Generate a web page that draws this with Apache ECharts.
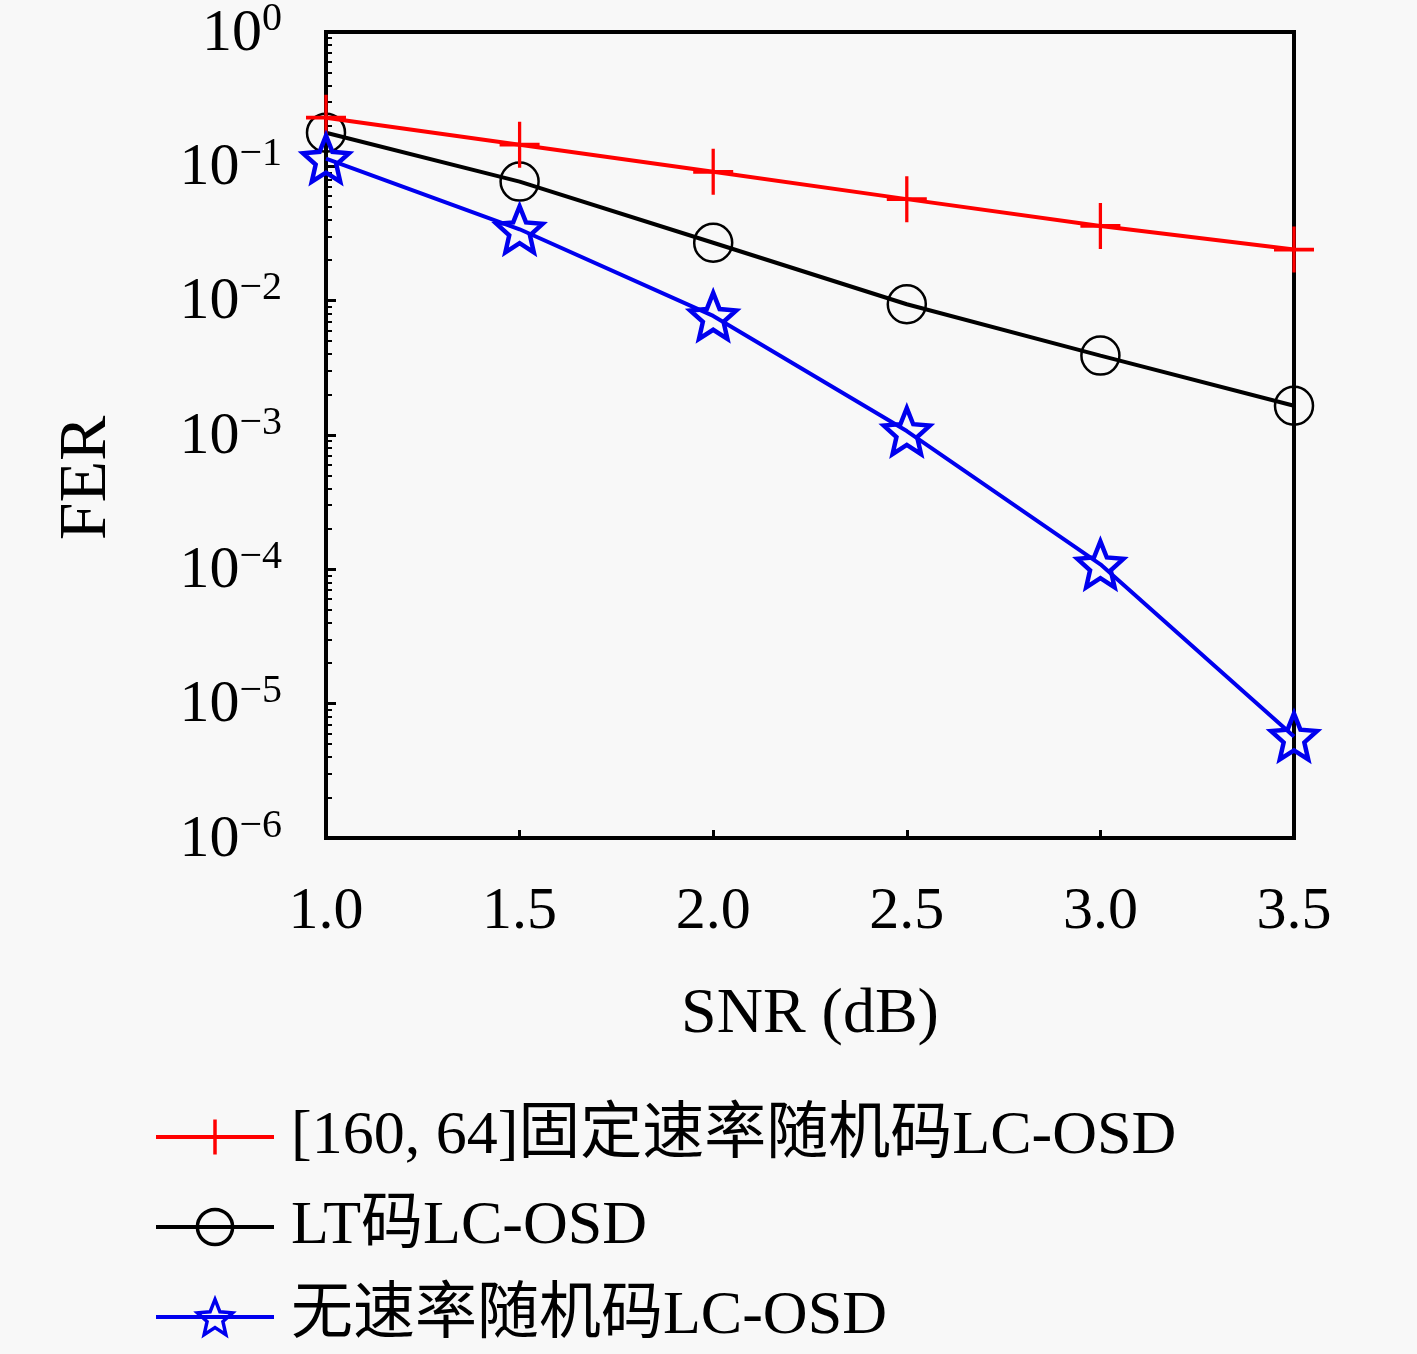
<!DOCTYPE html>
<html><head><meta charset="utf-8">
<script src="https://cdn.jsdelivr.net/npm/echarts@6/dist/echarts.min.js"></script>
<style>html,body{margin:0;padding:0;background:#f8f8f8}#c{width:1417px;height:1354px}</style>
</head><body><div id="c"></div>
<script>
const snr = [1.0, 1.5, 2.0, 2.5, 3.0, 3.5];
const fixedRate = [0.23, 0.145, 0.091, 0.057, 0.036, 0.024];
const ltCode = [0.178, 0.077, 0.027, 0.0094, 0.0039, 0.00165];
const ratelessRandom = [0.114, 0.034, 0.0077, 0.00107, 0.000109, 0.0000057];
const seriesNames = ['[160, 64]固定速率随机码LC-OSD', 'LT码LC-OSD', '无速率随机码LC-OSD'];
const xTicks = ['1.0','1.5','2.0','2.5','3.0','3.5'];
const yTickExps = [0,-1,-2,-3,-4,-5,-6];

function starPath(){
  let p = [];
  for (let k=0;k<10;k++){
    const r = k%2===0 ? 1 : 0.45;
    const a = (-90 + k*36) * Math.PI/180;
    p.push((k===0?'M':'L') + (r*Math.cos(a)).toFixed(3) + ',' + (r*Math.sin(a)).toFixed(3));
  }
  return 'path://' + p.join('') + 'Z';
}
const crossPath = 'path://M0,-1L0,1M-1,0L1,0';
const serif = '"Liberation Serif","DejaVu Serif","Noto Sans CJK SC",serif';
const pair = a => snr.map((x,i)=>[x,a[i]]);

const chart = echarts.init(document.getElementById('c'));
chart.setOption({
  backgroundColor:'#f8f8f8',
  animation:false,
  grid:{left:326, top:30, right:123, bottom:516, show:true, borderColor:'#000', borderWidth:4, backgroundColor:'transparent'},
  xAxis:{type:'value', min:1, max:3.5, interval:0.5,
    name:'SNR (dB)', nameLocation:'middle', nameGap:145,
    nameTextStyle:{fontFamily:serif, fontSize:64, color:'#000'},
    axisLine:{lineStyle:{color:'#000', width:4}},
    axisTick:{inside:true, length:8, lineStyle:{color:'#000', width:3}},
    axisLabel:{margin:44, fontFamily:serif, fontSize:60, color:'#000',
      formatter:(v)=>{const i = snr.indexOf(v); return i>=0 ? xTicks[i] : v.toFixed(1);}},
    splitLine:{show:false}},
  yAxis:{type:'log', logBase:10, min:1e-6, max:1,
    name:'FER', nameLocation:'middle', nameGap:205, nameRotate:90,
    nameTextStyle:{fontFamily:serif, fontSize:68, color:'#000', padding:[0,86,0,0]},
    axisLine:{lineStyle:{color:'#000', width:4}},
    axisTick:{inside:true, length:10, lineStyle:{color:'#000', width:3}},
    minorTick:{show:true, splitNumber:9, length:6, lineStyle:{color:'#000', width:2}},
    axisLabel:{margin:44, fontFamily:serif, color:'#000',
      formatter:(v)=>{const e = Math.round(Math.log10(v)); if(!yTickExps.includes(e)) return '';
        return '{b|10}{s|' + (e<0 ? '\u2212'+(-e) : e) + '}';},
      rich:{b:{fontFamily:serif, fontSize:60, color:'#000', lineHeight:64, verticalAlign:'bottom'},
            s:{fontFamily:serif, fontSize:40, color:'#000', verticalAlign:'top', lineHeight:64}}},
    splitLine:{show:false}},
  legend:{orient:'vertical', left:154, top:1104, height:250, padding:0, itemWidth:118, itemHeight:44, itemGap:24,
    lineStyle:{width:4}, itemStyle:{borderWidth:3.5},
    textStyle:{fontFamily:serif, fontSize:62, color:'#000', padding:[0,0,0,12], lineHeight:66},
    data:seriesNames},
  series:[
    {name:seriesNames[0], type:'line', data:pair(fixedRate), symbol:crossPath, symbolSize:[40,46],
      lineStyle:{color:'#ff0000', width:4}, itemStyle:{color:'none', borderColor:'#ff0000', borderWidth:3.5}, z:3},
    {name:seriesNames[1], type:'line', data:pair(ltCode), symbol:'circle', symbolSize:38,
      lineStyle:{color:'#000', width:4}, itemStyle:{color:'none', borderColor:'#000', borderWidth:2.5}, z:2},
    {name:seriesNames[2], type:'line', data:pair(ratelessRandom), symbol:starPath(), symbolSize:46,
      lineStyle:{color:'#0000ee', width:4}, itemStyle:{color:'none', borderColor:'#0000ee', borderWidth:4.5}, z:4}
  ]
});
</script></body></html>
